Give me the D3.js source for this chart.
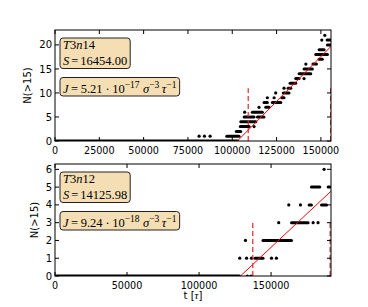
<!DOCTYPE html>
<html>
<head>
<meta charset="utf-8">
<script src="https://cdn.jsdelivr.net/npm/d3@7"></script>
<style>
  body { margin: 0; background: #fff; }
</style>
</head>
<body>
<svg id="svg"></svg>
<script>
// runs of dots: [t start, t end, N]; a single dot has start == end
const topRuns = [
  [0, 103000, 0],
  [81300, 81300, 1], [84300, 84300, 1], [87500, 87500, 1], [96900, 103800, 1],
  [102300, 104800, 2],
  [104500, 109500, 3], [112300, 112300, 3],
  [104800, 113300, 4],
  [106700, 109500, 5], [110400, 112300, 5], [114200, 117900, 5],
  [107000, 107000, 6], [111300, 117000, 6],
  [115100, 115100, 7], [118900, 120800, 7],
  [117900, 119800, 8], [122600, 127400, 8],
  [119800, 119800, 9], [123600, 123600, 9], [127900, 129200, 9],
  [124500, 124500, 10], [128800, 132000, 10],
  [129200, 129200, 11], [131500, 133000, 11],
  [132600, 135800, 12],
  [135800, 137700, 13], [140500, 140500, 13],
  [137700, 144300, 14],
  [140500, 145200, 15],
  [141500, 141500, 16], [145500, 147500, 16],
  [149000, 150800, 17],
  [147100, 153700, 18],
  [149000, 151800, 19],
  [153700, 155600, 20],
  [150500, 150500, 21], [153500, 155600, 21],
  [152200, 152200, 22]
];
const bottomRuns = [
  [0, 128000, 0], [133500, 133500, 0], [136000, 136000, 0],
  [128250, 128250, 1], [133000, 133000, 1], [136400, 136400, 1], [138800, 144400, 1],
  [150300, 150300, 1], [153700, 153700, 1],
  [132200, 132200, 2], [144400, 164200, 2],
  [155300, 155300, 3], [164200, 175700, 3], [179200, 179200, 3], [182600, 182600, 3],
  [162300, 162300, 4], [170400, 170400, 4], [176400, 178000, 4], [185000, 188500, 4],
  [178000, 183800, 5], [189600, 190800, 5],
  [186800, 186800, 6]
];

// fitted line end points [t, N] and the dashed markers [t, height]
const topFit = [[102900, 0], [155700, 19.7]];
const bottomFit = [[128750, 0], [191600, 4.77]];
const topMarks = [[109000, 11], [155500, 11]];
const bottomMarks = [[137300, 3], [191000, 3]];

const topXLim = [0, 155700];
const topYLim = [0, 23.1];
const bottomXLim = [0, 191600];
const bottomYLim = [0, 6.3];

const topXTicks = [0, 25000, 50000, 75000, 100000, 125000, 150000];
const topYTicks = [0, 5, 10, 15, 20];
const bottomXTicks = [0, 50000, 100000, 150000];
const bottomYTicks = [0, 1, 2, 3, 4, 5, 6];

const topLabels = { name: ['T', '3', 'n', '14'], s: '16454.00', j: '5.21', exp: '\u221217' };
const bottomLabels = { name: ['T', '3', 'n', '12'], s: '14125.98', j: '9.24', exp: '\u221218' };

const width = 368, height = 307;
const svg = d3.select('#svg').attr('width', width).attr('height', height);
const sans = '"DejaVu Sans", sans-serif';
const serif = '"Liberation Serif", "DejaVu Serif", serif';

function drawPanel(id, box, runs, fit, marks, xLim, yLim, xTicks, yTicks, labels, yLabelX) {
  const x = d3.scaleLinear().domain(xLim).range([box.left, box.right]);
  const y = d3.scaleLinear().domain(yLim).range([box.bottom, box.top]);
  const g = svg.append('g');

  g.append('clipPath').attr('id', id)
    .append('rect')
      .attr('x', box.left).attr('y', box.top)
      .attr('width', box.right - box.left).attr('height', box.bottom - box.top);

  const plot = g.append('g').attr('clip-path', `url(#${id})`);

  plot.selectAll('line.run')
    .data(runs.filter(d => d[1] > d[0]))
    .enter()
    .append('line')
      .attr('class', 'run')
      .attr('x1', d => x(d[0])).attr('x2', d => x(d[1]))
      .attr('y1', d => y(d[2])).attr('y2', d => y(d[2]))
      .attr('stroke', 'black')
      .attr('stroke-width', 3)
      .attr('stroke-linecap', 'round');

  plot.selectAll('circle')
    .data(runs.filter(d => d[1] === d[0]))
    .enter()
    .append('circle')
      .attr('cx', d => x(d[0]))
      .attr('cy', d => y(d[2]))
      .attr('r', 1.6)
      .attr('fill', 'black');

  plot.append('line')
    .attr('x1', x(fit[0][0])).attr('y1', y(fit[0][1]))
    .attr('x2', x(fit[1][0])).attr('y2', y(fit[1][1]))
    .attr('stroke', 'red')
    .attr('stroke-width', 1);

  plot.selectAll('line.mark')
    .data(marks)
    .enter()
    .append('line')
      .attr('class', 'mark')
      .attr('x1', d => x(d[0])).attr('x2', d => x(d[0]))
      .attr('y1', y(0)).attr('y2', d => y(d[1]))
      .attr('stroke', '#e8262a')
      .attr('stroke-width', 1.2)
      .attr('stroke-dasharray', '5,3');

  // frame and inward ticks on all four sides
  g.append('rect')
    .attr('x', box.left).attr('y', box.top)
    .attr('width', box.right - box.left).attr('height', box.bottom - box.top)
    .attr('fill', 'none')
    .attr('stroke', 'black')
    .attr('stroke-width', 1);

  const tickLen = 4;
  xTicks.forEach(t => {
    g.append('line').attr('x1', x(t)).attr('x2', x(t))
      .attr('y1', box.bottom).attr('y2', box.bottom - tickLen).attr('stroke', 'black');
    g.append('line').attr('x1', x(t)).attr('x2', x(t))
      .attr('y1', box.top).attr('y2', box.top + tickLen).attr('stroke', 'black');
    g.append('text')
      .attr('x', x(t)).attr('y', box.bottom + 12.5)
      .attr('text-anchor', 'middle')
      .style('font-family', sans)
      .attr('font-size', '9.6px')
      .text(t);
  });
  yTicks.forEach(t => {
    g.append('line').attr('x1', box.left).attr('x2', box.left + tickLen)
      .attr('y1', y(t)).attr('y2', y(t)).attr('stroke', 'black');
    g.append('line').attr('x1', box.right).attr('x2', box.right - tickLen)
      .attr('y1', y(t)).attr('y2', y(t)).attr('stroke', 'black');
    g.append('text')
      .attr('x', box.left - 3).attr('y', y(t))
      .attr('dy', '0.36em')
      .attr('text-anchor', 'end')
      .style('font-family', sans)
      .attr('font-size', '10px')
      .text(t);
  });

  g.append('text')
    .attr('transform', `translate(${yLabelX},${(box.top + box.bottom) / 2}) rotate(-90)`)
    .attr('text-anchor', 'middle')
    .style('font-family', sans)
    .attr('font-size', '10px')
    .text('N(>15)');

  // name and S box
  const b1 = g.append('g');
  const r1 = b1.append('rect');
  const t1 = b1.append('text')
    .attr('x', box.left + 8).attr('y', box.top + 19)
    .style('font-family', serif).attr('font-size', '12.5px');
  labels.name.forEach((s, i) => {
    t1.append('tspan').attr('font-style', i % 2 === 0 ? 'italic' : 'normal').text(s);
  });
  const t2 = b1.append('text')
    .attr('x', box.left + 8).attr('y', box.top + 35)
    .style('font-family', serif).attr('font-size', '12.5px');
  t2.append('tspan').attr('font-style', 'italic').text('S');
  t2.append('tspan').attr('dx', 2).text('=');
  t2.append('tspan').attr('dx', 2).text(labels.s);

  // J box
  const b2 = g.append('g');
  const r2 = b2.append('rect');
  const t3 = b2.append('text')
    .attr('x', box.left + 8).attr('y', box.top + 62.5)
    .style('font-family', serif).attr('font-size', '12.5px');
  t3.append('tspan').attr('font-style', 'italic').text('J');
  t3.append('tspan').attr('dx', 2.5).text('=');
  t3.append('tspan').attr('dx', 2.5).text(labels.j);
  t3.append('tspan').attr('dx', 3).text('\u00b7');
  t3.append('tspan').attr('dx', 2.5).text('10');
  t3.append('tspan').attr('dy', -5).attr('font-size', '9.5px').text(labels.exp);
  t3.append('tspan').attr('dy', 5).attr('dx', 3.5).attr('font-style', 'italic').text('\u03c3');
  t3.append('tspan').attr('dy', -5).attr('font-size', '9.5px').text('\u22123');
  t3.append('tspan').attr('dy', 5).attr('dx', 2.5).attr('font-style', 'italic').text('\u03c4');
  t3.append('tspan').attr('dy', -5).attr('font-size', '9.5px').text('\u22121');

  const pad = 3;
  const w1 = Math.max(t1.node().getBBox().width, t2.node().getBBox().width);
  r1.attr('x', box.left + 5).attr('y', box.top + 8)
    .attr('width', w1 + 2 * pad).attr('height', 30.5)
    .attr('rx', 3)
    .attr('fill', '#f5deb3').attr('stroke', '#222').attr('stroke-width', 1);
  const w2 = t3.node().getBBox().width;
  r2.attr('x', box.left + 5).attr('y', box.top + 47.5)
    .attr('width', w2 + 2 * pad).attr('height', 18.5)
    .attr('rx', 3)
    .attr('fill', '#f5deb3').attr('stroke', '#222').attr('stroke-width', 1);
}

drawPanel('clipTop', { left: 55, right: 331, top: 30, bottom: 141 },
  topRuns, topFit, topMarks, topXLim, topYLim, topXTicks, topYTicks, topLabels, 31);
drawPanel('clipBottom', { left: 55, right: 331, top: 164, bottom: 276 },
  bottomRuns, bottomFit, bottomMarks, bottomXLim, bottomYLim, bottomXTicks, bottomYTicks, bottomLabels, 38);

const xl = svg.append('text')
  .attr('x', 193).attr('y', 299)
  .attr('text-anchor', 'middle')
  .style('font-family', sans)
  .attr('font-size', '10px');
xl.append('tspan').text('t [');
xl.append('tspan').style('font-family', serif).attr('font-style', 'italic').attr('font-size', '11px').text('\u03c4');
xl.append('tspan').text(']');
</script>
</body>
</html>
